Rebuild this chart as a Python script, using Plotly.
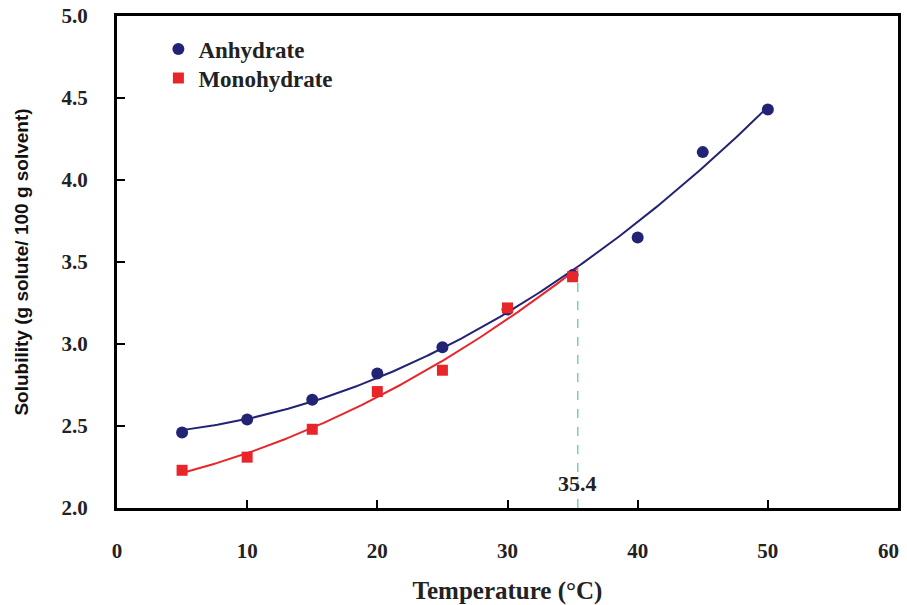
import numpy as np
import plotly.graph_objects as go

temp_anh = [5, 10, 15, 20, 25, 30, 35, 40, 45, 50]
sol_anh = [2.46, 2.54, 2.66, 2.82, 2.98, 3.21, 3.42, 3.65, 4.17, 4.43]
temp_mono = [5, 10, 15, 20, 25, 30, 35]
sol_mono = [2.23, 2.31, 2.48, 2.71, 2.84, 3.22, 3.41]
transition_temp = 35.4
x_ticks = [0, 10, 20, 30, 40, 50, 60]
y_ticks = [2.0, 2.5, 3.0, 3.5, 4.0, 4.5, 5.0]

navy = "#232376"
red = "#e8262a"

# quadratic trend lines fitted to the measured points
pa = np.polyfit(temp_anh, sol_anh, 2)
pm = np.polyfit(temp_mono, sol_mono, 2)
xa = np.linspace(min(temp_anh), max(temp_anh), 200)
xm = np.linspace(min(temp_mono), transition_temp, 200)

fig = go.Figure()
fig.add_trace(go.Scatter(x=xa, y=np.polyval(pa, xa), mode="lines",
                         line=dict(color=navy, width=2), showlegend=False, hoverinfo="skip"))
fig.add_trace(go.Scatter(x=xm, y=np.polyval(pm, xm), mode="lines",
                         line=dict(color=red, width=2), showlegend=False, hoverinfo="skip"))
fig.add_trace(go.Scatter(x=[transition_temp, transition_temp], y=[2.0, np.polyval(pm, transition_temp)],
                         mode="lines", line=dict(color="#6cc4a8", width=1.3, dash="dash"),
                         showlegend=False, hoverinfo="skip"))
fig.add_trace(go.Scatter(x=temp_anh, y=sol_anh, mode="markers", name="<b>Anhydrate</b>",
                         marker=dict(symbol="circle", size=12, color=navy), legend="legend"))
fig.add_trace(go.Scatter(x=temp_mono, y=sol_mono, mode="markers", name="<b>Monohydrate</b>",
                         marker=dict(symbol="square", size=11, color=red), legend="legend2"))

serif = "Liberation Serif"
tickfont = dict(family=serif, size=21, color="#222")
fig.add_annotation(x=transition_temp, y=2.0, yshift=25, text="<b>35.4</b>", showarrow=False,
                   font=dict(family=serif, size=22, color="#222"))

# last x tick label drawn as annotation so it stays inside the page
x_text = [f"<b>{v}</b>" for v in x_ticks]
fig.add_annotation(x=x_ticks[-1], y=0, yref="paper", yanchor="middle", yshift=-43, xshift=-10,
                   text=x_text[-1], showarrow=False, font=tickfont)
x_text[-1] = ""

legfont = dict(family=serif, size=23, color="#222")
fig.update_layout(
    width=907, height=605,
    margin=dict(l=117, r=9, t=16, b=97),
    paper_bgcolor="white", plot_bgcolor="white",
    legend=dict(x=0.053, y=0.933, xanchor="left", yanchor="middle", font=legfont,
                bgcolor="rgba(0,0,0,0)", itemclick=False),
    legend2=dict(x=0.053, y=0.874, xanchor="left", yanchor="middle", font=legfont,
                 bgcolor="rgba(0,0,0,0)", itemclick=False),
    xaxis=dict(range=[0, 60], tickvals=x_ticks, ticktext=x_text, automargin=False,
               ticks="inside", ticklen=8, tickwidth=2, tickcolor="black",
               showline=True, linecolor="black", linewidth=3, mirror=True,
               showgrid=False, zeroline=False, ticklabelstandoff=22,
               tickfont=tickfont,
               title=dict(text="<b>Temperature (°C)</b>", standoff=22,
                          font=dict(family=serif, size=25, color="#222"))),
    yaxis=dict(range=[2.0, 5.0], tickvals=y_ticks, ticktext=[f"<b>{v:.1f}</b>" for v in y_ticks],
               ticks="inside", ticklen=8, tickwidth=2, tickcolor="black",
               showline=True, linecolor="black", linewidth=3, mirror=True,
               showgrid=False, zeroline=False, ticklabelstandoff=22, automargin=False,
               tickfont=tickfont,
               title=dict(text="<b>Solubility (g solute/ 100 g solvent)</b>", standoff=28,
                          font=dict(family="Liberation Sans", size=19, color="#111"))),
)

fig.write_html("out.html")
